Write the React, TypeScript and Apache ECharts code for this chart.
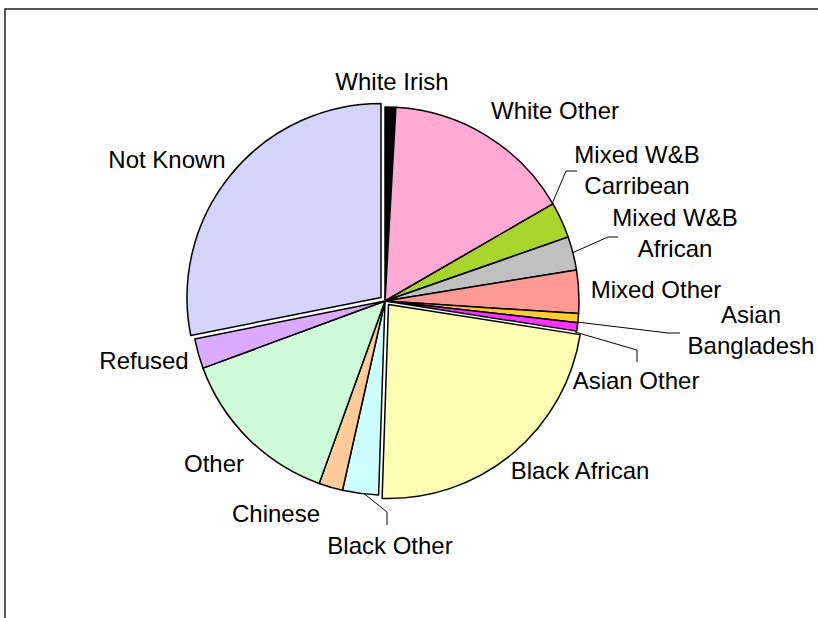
import React, { useEffect, useRef } from "react";
import * as echarts from "echarts";

const categories = [
  "White Irish",
  "White Other",
  "Mixed W&B\nCarribean",
  "Mixed W&B\nAfrican",
  "Mixed Other",
  "Asian\nBangladesh",
  "Asian Other",
  "Black African",
  "Black Other",
  "Chinese",
  "Other",
  "Refused",
  "Not Known",
];

const values = [0.9, 15.8, 3.0, 2.8, 3.6, 0.75, 0.7, 23.1, 3.0, 2.0, 13.9, 2.5, 28.2];

const colors = [
  "#000000",
  "#FFA9D4",
  "#A8D52C",
  "#C0C0C0",
  "#FF9994",
  "#FFCC2E",
  "#FF33FF",
  "#FFFFB3",
  "#CCFFFF",
  "#FFCC99",
  "#CFFAD7",
  "#D9AAFF",
  "#D4D4FA",
];

// exploded slices and the centre each one is drawn from (layout)
const exploded: { name: string; center: number[] }[] = [
  { name: "Not Known", center: [381, 297.5] },
  { name: "Black African", center: [388.5, 304.5] },
];

const CENTER = [385, 301];
const RADIUS = 194;

// label placement (layout, not data)
const labelPos: number[][] = [
  [392, 81],
  [555, 110],
  [637, 170],
  [675, 233],
  [656, 289],
  [751, 330],
  [636, 380],
  [580, 470],
  [390, 545],
  [276, 513],
  [214, 463],
  [144, 360],
  [167, 159],
];

const leaders: (number[][] | null)[] = [
  null,
  null,
  [[552, 204], [566, 171], [577, 171]],
  [[572, 253], [608, 237], [618, 237]],
  null,
  [[577, 322], [668, 333], [680, 333]],
  [[575, 332], [637, 350], [637, 362]],
  null,
  [[362, 492], [387, 512], [387, 525]],
  null,
  null,
  null,
  null,
];

const explodedNames = exploded.map((e) => e.name);
const sliceBorder = { borderColor: "#000000", borderWidth: 1.5 };
const hidden = { color: "rgba(0,0,0,0)", borderWidth: 0 };

export default function App() {
  const ref = useRef<HTMLDivElement>(null);
  useEffect(() => {
    if (!ref.current) return;
    const chart = echarts.init(ref.current, null, { renderer: "svg" });

    const mainData = categories.map((name, i) => ({
      name,
      value: values[i],
      itemStyle: explodedNames.includes(name)
        ? hidden
        : { color: colors[i], ...sliceBorder },
      labelLine: { show: !!leaders[i] },
    }));

    const explodedSeries = exploded.map((ex) => ({
      type: "pie",
      center: ex.center,
      radius: RADIUS,
      startAngle: 90,
      clockwise: true,
      silent: true,
      emphasis: { disabled: true },
      label: { show: false },
      labelLine: { show: false },
      data: categories.map((name, i) => ({
        name,
        value: values[i],
        itemStyle:
          name === ex.name ? { color: colors[i], ...sliceBorder } : hidden,
      })),
    }));

    chart.setOption({
      animation: false,
      backgroundColor: "#ffffff",
      graphic: [
        {
          type: "rect",
          shape: { x: 5, y: 9, width: 900, height: 700 },
          style: { fill: "none", stroke: "#222222", lineWidth: 1.5 },
          silent: true,
        },
      ],
      series: [
        ...explodedSeries,
        {
          type: "pie",
          center: CENTER,
          radius: RADIUS,
          startAngle: 90,
          clockwise: true,
          silent: true,
          avoidLabelOverlap: false,
          emphasis: { disabled: true },
          label: {
            show: true,
            position: "outside",
            formatter: "{b}",
            color: "#000000",
            fontFamily: "Liberation Sans, Arial, sans-serif",
            fontSize: 24,
            lineHeight: 31,
            align: "center",
          },
          labelLine: {
            show: true,
            lineStyle: { color: "#000000", width: 1 },
          },
          labelLayout: (params: any) => {
            const i = params.dataIndex;
            const p = labelPos[i];
            const res: any = {
              x: p[0],
              y: p[1],
              align: "center",
              verticalAlign: "middle",
            };
            if (leaders[i]) res.labelLinePoints = leaders[i];
            return res;
          },
          data: mainData,
        },
      ],
    });
    return () => chart.dispose();
  }, []);
  return (
    <div
      ref={ref}
      style={{ position: "fixed", left: 0, top: 0, width: 818, height: 618 }}
    />
  );
}
